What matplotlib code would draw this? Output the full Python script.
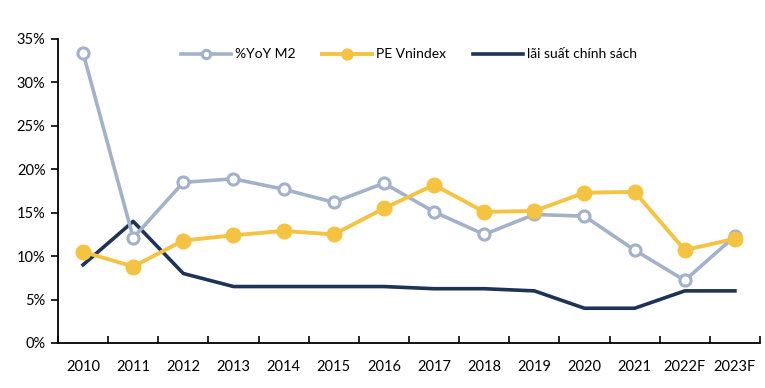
import matplotlib.pyplot as plt
import numpy as np

plt.rcParams['font.family'] = ['Lato', 'DejaVu Sans']

years = ['2010', '2011', '2012', '2013', '2014', '2015', '2016', '2017',
         '2018', '2019', '2020', '2021', '2022F', '2023F']
m2_yoy = [33.4, 12.1, 18.5, 18.9, 17.7, 16.2, 18.4, 15.1, 12.5, 14.8, 14.6, 10.7, 7.2, 12.3]
pe_vnindex = [10.5, 8.8, 11.8, 12.4, 12.9, 12.5, 15.5, 18.2, 15.1, 15.2, 17.3, 17.4, 10.7, 12.0]
policy_rate = [9.0, 14.0, 8.0, 6.5, 6.5, 6.5, 6.5, 6.25, 6.25, 6.0, 4.0, 4.0, 6.0, 6.0]

c_m2 = '#A3B1C9'
c_pe = '#F4C343'
c_rate = '#1E3356'

fig = plt.figure(figsize=(7.65, 3.88), dpi=100)
ax = fig.add_axes([58 / 765, 45 / 388, 702 / 765, 304 / 388])

x = np.arange(len(years))
ax.plot(x, m2_yoy, color=c_m2, lw=2.6, marker='o', ms=8, mfc='white',
        mec=c_m2, mew=2.2, label='%YoY M2', zorder=3)
ax.plot(x, pe_vnindex, color=c_pe, lw=2.8, marker='o', ms=10.5, mfc=c_pe,
        mec=c_pe, label='PE Vnindex', zorder=4)
ax.plot(x, policy_rate, color=c_rate, lw=2.6, label='lãi suất chính sách', zorder=2)

ax.set_xlim(-0.5, len(years) - 0.5)
ax.set_ylim(0, 35)
ax.set_yticks(np.arange(0, 36, 5))
ax.set_yticklabels([f'{v}%' for v in range(0, 36, 5)])
ax.set_xticks(x)
ax.set_xticklabels(years)
ax.set_xticks(np.arange(-0.5, len(years), 1), minor=True)
ax.tick_params(axis='x', which='major', length=0, pad=12, labelsize=10.5)
ax.tick_params(axis='x', which='minor', length=5, width=1.2, direction='in')
ax.tick_params(axis='y', length=5, width=1.2, direction='out', labelsize=10.5, pad=4)

for s in ['top', 'right']:
    ax.spines[s].set_visible(False)
for s in ['left', 'bottom']:
    ax.spines[s].set_linewidth(1.3)

ax.legend(loc='upper center', bbox_to_anchor=(0.5, 1.01), ncol=3, frameon=False,
          handlelength=3.6, columnspacing=1.9, handletextpad=0.3, fontsize=10,
          markerscale=0.75)

fig.savefig('out.png', dpi=100)
